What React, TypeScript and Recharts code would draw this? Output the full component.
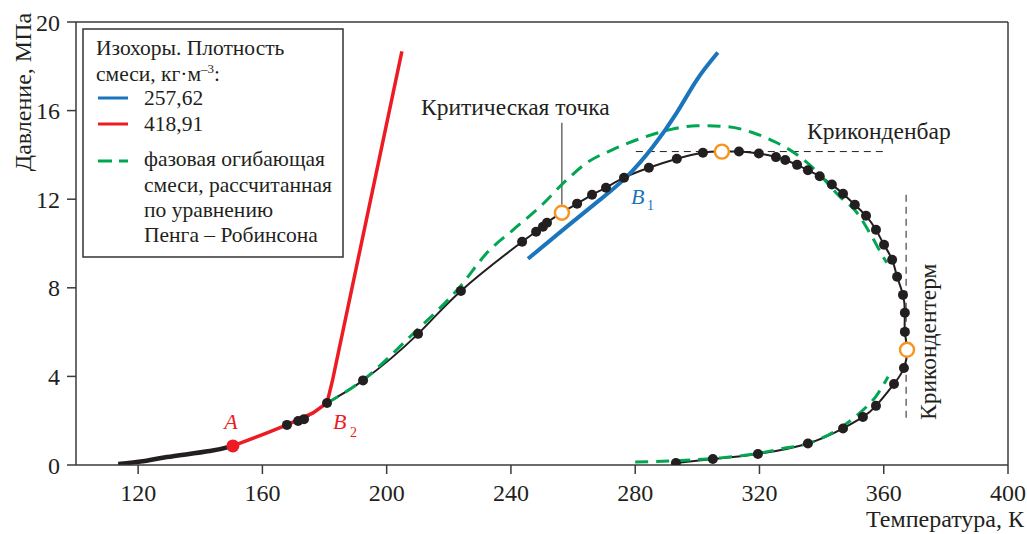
import { ComposedChart, Line, Scatter, XAxis, YAxis, ReferenceLine } from "recharts";

const FONT = "Liberation Serif, DejaVu Serif, Times New Roman, serif";
const INK = "#231f20";
const BLUE = "#1b75bc";
const RED = "#ed1c24";
const GREEN = "#00a651";
const ORANGE = "#f7941d";

const tTicks = [120, 160, 200, 240, 280, 320, 360, 400];
const pTicks = [0, 4, 8, 12, 16, 20];

// experimental phase boundary, T (K) / P (MPa); m = measured point (drawn as a dot)
const boundaryCurve = [
  { t: 113.6, p: 0.05, m: false },
  { t: 121.5, p: 0.17, m: false },
  { t: 129.3, p: 0.36, m: false },
  { t: 143.1, p: 0.63, m: false },
  { t: 150.5, p: 0.86, m: false },
  { t: 161.5, p: 1.45, m: false },
  { t: 167.9, p: 1.81, m: true },
  { t: 171.5, p: 1.99, m: true },
  { t: 173.4, p: 2.07, m: true },
  { t: 180.8, p: 2.8, m: true },
  { t: 192.4, p: 3.82, m: true },
  { t: 210.1, p: 5.92, m: true },
  { t: 223.9, p: 7.86, m: true },
  { t: 243.6, p: 10.08, m: true },
  { t: 248.1, p: 10.53, m: true },
  { t: 250.3, p: 10.76, m: true },
  { t: 251.6, p: 10.94, m: true },
  { t: 256.4, p: 11.39, m: false },
  { t: 261.3, p: 11.8, m: true },
  { t: 266.1, p: 12.2, m: true },
  { t: 270.6, p: 12.52, m: true },
  { t: 276.4, p: 12.97, m: true },
  { t: 284.4, p: 13.42, m: true },
  { t: 293.4, p: 13.83, m: true },
  { t: 301.8, p: 14.1, m: true },
  { t: 307.9, p: 14.15, m: false },
  { t: 313.4, p: 14.15, m: true },
  { t: 319.8, p: 14.06, m: true },
  { t: 325.3, p: 13.9, m: true },
  { t: 328.3, p: 13.77, m: true },
  { t: 332.1, p: 13.55, m: true },
  { t: 335.6, p: 13.31, m: true },
  { t: 339.4, p: 13.04, m: true },
  { t: 343.3, p: 12.66, m: true },
  { t: 346.9, p: 12.25, m: true },
  { t: 350.7, p: 11.75, m: true },
  { t: 354.3, p: 11.25, m: true },
  { t: 357.5, p: 10.62, m: true },
  { t: 360.1, p: 9.94, m: true },
  { t: 362.7, p: 9.27, m: true },
  { t: 364.3, p: 8.5, m: true },
  { t: 366.2, p: 7.68, m: true },
  { t: 366.8, p: 6.87, m: true },
  { t: 366.8, p: 6.01, m: true },
  { t: 367.5, p: 5.2, m: false },
  { t: 366.5, p: 4.38, m: true },
  { t: 363.3, p: 3.66, m: true },
  { t: 357.5, p: 2.67, m: true },
  { t: 353.3, p: 2.17, m: true },
  { t: 346.9, p: 1.65, m: true },
  { t: 335.6, p: 0.97, m: true },
  { t: 319.5, p: 0.5, m: true },
  { t: 305.0, p: 0.27, m: true },
  { t: 293.1, p: 0.09, m: true },
];

// low-temperature tail of the bubble line, drawn heavier
const boundaryTail = boundaryCurve.slice(0, 5);
const measuredPoints = boundaryCurve.filter((d) => d.m);

// critical point, cricondenbar, cricondentherm
const specialPoints = [
  { t: 256.4, p: 11.39 },
  { t: 307.9, p: 14.15 },
  { t: 367.5, p: 5.2 },
];

// isochore 257,62 kg/m3
const isochoreLow = [
  { t: 245.5, p: 9.31 },
  { t: 258.0, p: 10.76 },
  { t: 268.7, p: 11.98 },
  { t: 277.3, p: 13.02 },
  { t: 285.7, p: 14.37 },
  { t: 293.4, p: 15.91 },
  { t: 299.9, p: 17.4 },
  { t: 306.6, p: 18.62 },
];

// isochore 418,91 kg/m3
const isochoreHigh = [
  { t: 150.5, p: 0.86 },
  { t: 161.5, p: 1.45 },
  { t: 167.9, p: 1.81 },
  { t: 176.3, p: 2.35 },
  { t: 180.8, p: 2.8 },
  { t: 182.6, p: 3.84 },
  { t: 204.9, p: 18.67 },
];

const pointA = [{ t: 150.5, p: 0.86 }];

// Peng–Robinson envelope, upper branch and lower branch
const prUpper = [
  { t: 180.8, p: 2.8 },
  { t: 192.4, p: 3.84 },
  { t: 207.5, p: 5.79 },
  { t: 223.6, p: 8.05 },
  { t: 232.3, p: 9.58 },
  { t: 240.7, p: 10.62 },
  { t: 249.4, p: 11.66 },
  { t: 258.0, p: 12.88 },
  { t: 264.5, p: 13.65 },
  { t: 272.8, p: 14.24 },
  { t: 282.5, p: 14.78 },
  { t: 291.2, p: 15.14 },
  { t: 299.9, p: 15.32 },
  { t: 309.5, p: 15.28 },
  { t: 317.9, p: 15.0 },
  { t: 325.6, p: 14.55 },
  { t: 332.1, p: 14.01 },
  { t: 337.2, p: 13.42 },
  { t: 345.9, p: 12.11 },
  { t: 351.4, p: 11.39 },
  { t: 356.2, p: 10.31 },
  { t: 359.8, p: 9.4 },
  { t: 361.0, p: 9.13 },
];

const prLower = [
  { t: 280.0, p: 0.14 },
  { t: 291.2, p: 0.18 },
  { t: 307.3, p: 0.32 },
  { t: 320.2, p: 0.54 },
  { t: 326.6, p: 0.72 },
  { t: 337.2, p: 1.04 },
  { t: 345.9, p: 1.67 },
  { t: 352.3, p: 2.35 },
  { t: 357.8, p: 3.16 },
  { t: 361.4, p: 3.98 },
];

const tickStyle = { fontSize: 24, fill: INK, fontFamily: FONT };
const axisStroke = { stroke: "#3a3a3a", strokeWidth: 1.5 };

const Dot = (props: any) => <circle cx={props.cx} cy={props.cy} r={5} fill={INK} />;
const OpenDot = (props: any) => (
  <circle cx={props.cx} cy={props.cy} r={7} fill="#fff" stroke={ORANGE} strokeWidth={2.4} />
);
const RedDot = (props: any) => <circle cx={props.cx} cy={props.cy} r={6.5} fill={RED} />;

function Legend() {
  const tx = 144;
  return (
    <g style={{ fontFamily: FONT }} fontSize={21.5} fill={INK}>
      <rect x={83} y={29} width={260} height={228} fill="#fff" stroke="#333" strokeWidth={1.5} />
      <text x={96} y={55}>Изохоры. Плотность</text>
      <text x={96} y={81}>
        смеси, кг·м<tspan fontSize={13} dy={-8}>–3</tspan>
        <tspan dy={8}>:</tspan>
      </text>
      <line x1={98} x2={128} y1={98} y2={98} stroke={BLUE} strokeWidth={3} />
      <text x={tx} y={105}>257,62</text>
      <line x1={98} x2={128} y1={124} y2={124} stroke={RED} strokeWidth={3} />
      <text x={tx} y={131}>418,91</text>
      <line x1={98} x2={128} y1={161} y2={161} stroke={GREEN} strokeWidth={3} strokeDasharray="14 7" />
      <text x={tx} y={166}>фазовая огибающая</text>
      <text x={tx} y={192}>смеси, рассчитанная</text>
      <text x={tx} y={217}>по уравнению</text>
      <text x={tx} y={242}>Пенга – Робинсона</text>
    </g>
  );
}

function Annotations() {
  return (
    <svg width={1027} height={534} style={{ position: "absolute", left: 0, top: 0, pointerEvents: "none" }}>
      <Legend />
      <g style={{ fontFamily: FONT }} fill={INK} fontSize={23.5}>
        <text x={31} y={92} textAnchor="middle" transform="rotate(-90 31 92)" fontSize={24}>
          Давление, МПа
        </text>
        <text x={1024} y={527} textAnchor="end" fontSize={24}>
          Температура, К
        </text>
        <text x={421} y={115}>Критическая точка</text>
        <text x={807} y={139}>Криконденбар</text>
        <text x={936} y={420} transform="rotate(-90 936 420)">
          Крикондентерм
        </text>
      </g>
      <g style={{ fontFamily: FONT }} fontStyle="italic" fontSize={22}>
        <text x={231} y={429} textAnchor="middle" fill={RED}>A</text>
        <text x={333} y={429} fill={RED}>B</text>
        <text x={350} y={437} fill={RED} fontSize={14} fontStyle="normal">2</text>
        <text x={631} y={204} fill={BLUE}>B</text>
        <text x={647} y={210} fill={BLUE} fontSize={14} fontStyle="normal">1</text>
      </g>
    </svg>
  );
}

export default function App() {
  return (
    <div style={{ position: "absolute", left: 0, top: 0, width: 1027, height: 534, background: "#fff" }}>
      <ComposedChart width={1027} height={534} margin={{ top: 22, right: 19, bottom: 29, left: 16 }}>
        <XAxis
          type="number"
          dataKey="t"
          domain={[100, 400]}
          ticks={tTicks}
          height={40}
          tickSize={9}
          tickMargin={10}
          tick={tickStyle}
          axisLine={axisStroke}
          tickLine={axisStroke}
          allowDataOverflow
        />
        <YAxis
          type="number"
          dataKey="p"
          domain={[0, 20]}
          ticks={pTicks}
          width={60}
          tickSize={9}
          tickMargin={7}
          tick={tickStyle}
          axisLine={axisStroke}
          tickLine={axisStroke}
          allowDataOverflow
        />
        <ReferenceLine y={20} stroke="#3a3a3a" strokeWidth={1.5} />
        <ReferenceLine x={400} stroke="#3a3a3a" strokeWidth={1.5} />
        <ReferenceLine
          segment={[{ x: 280.2, y: 14.15 }, { x: 360.4, y: 14.15 }]}
          stroke={INK}
          strokeWidth={1}
          strokeDasharray="7 5"
        />
        <ReferenceLine
          segment={[{ x: 367.2, y: 12.2 }, { x: 367.2, y: 2.03 }]}
          stroke={INK}
          strokeWidth={1}
          strokeDasharray="7 5"
        />
        <ReferenceLine
          segment={[{ x: 256.4, y: 15.45 }, { x: 256.4, y: 11.75 }]}
          stroke={INK}
          strokeWidth={1}
        />
        <Line data={boundaryTail} dataKey="p" type="natural" stroke={INK} strokeWidth={4.5} dot={false} isAnimationActive={false} />
        <Line data={boundaryCurve} dataKey="p" type="natural" stroke={INK} strokeWidth={2} dot={false} isAnimationActive={false} />
        <Line data={prUpper} dataKey="p" type="monotone" stroke={GREEN} strokeWidth={3} strokeDasharray="13 8" dot={false} isAnimationActive={false} />
        <Line data={prLower} dataKey="p" type="monotone" stroke={GREEN} strokeWidth={3} strokeDasharray="13 8" dot={false} isAnimationActive={false} />
        <Scatter data={measuredPoints} shape={Dot} isAnimationActive={false} />
        <Line data={isochoreLow} dataKey="p" type="natural" stroke={BLUE} strokeWidth={4} dot={false} isAnimationActive={false} />
        <Line data={isochoreHigh} dataKey="p" type="linear" stroke={RED} strokeWidth={3.5} dot={false} isAnimationActive={false} />
        <Scatter data={specialPoints} shape={OpenDot} isAnimationActive={false} />
        <Scatter data={pointA} shape={RedDot} isAnimationActive={false} />
      </ComposedChart>
      <Annotations />
    </div>
  );
}
